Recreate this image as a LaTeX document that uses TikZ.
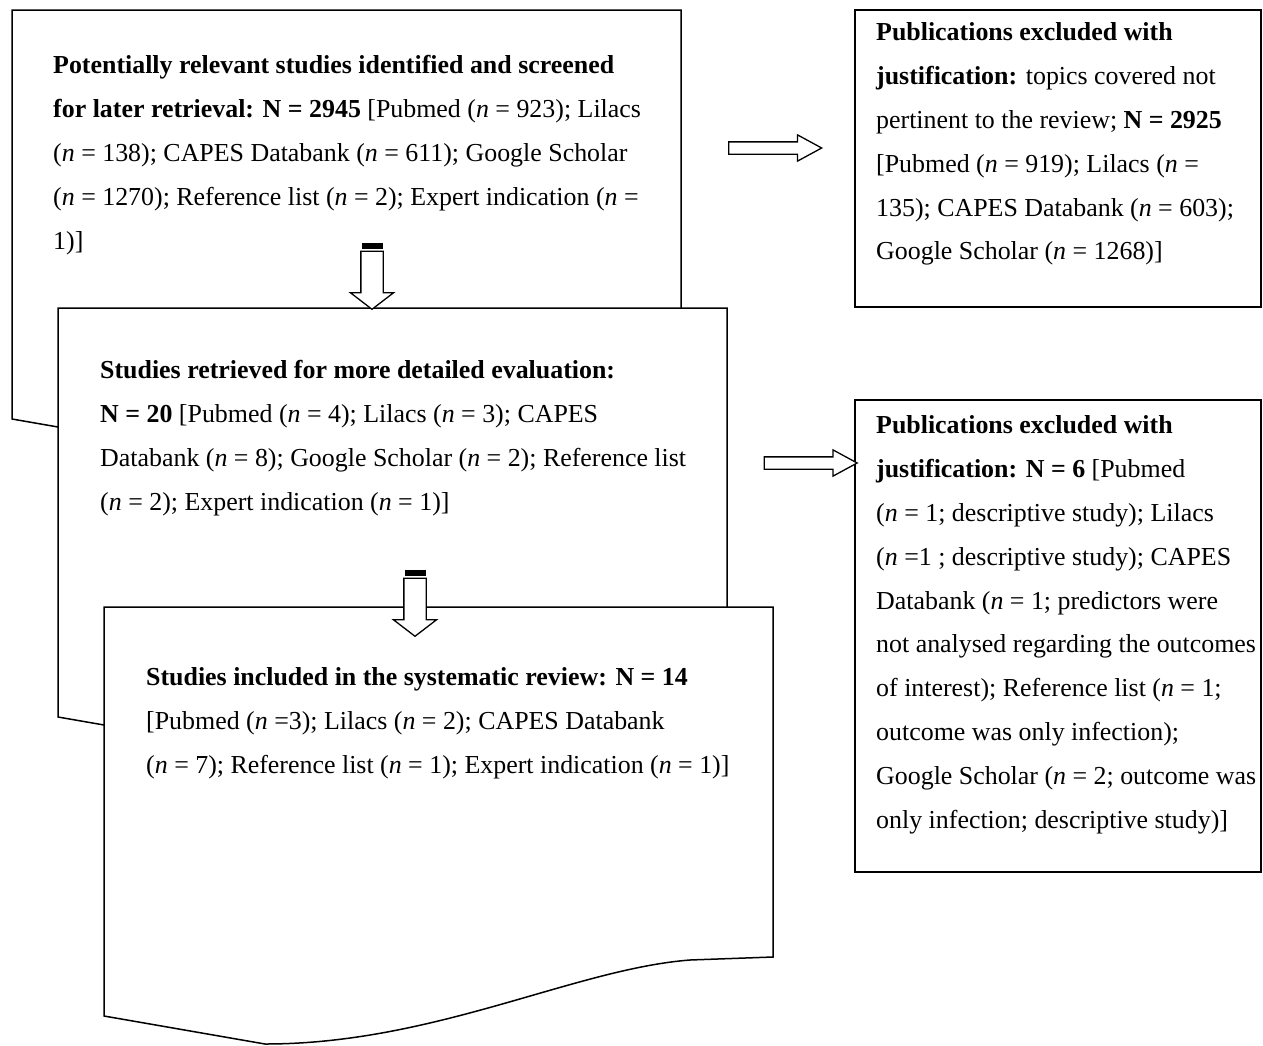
\documentclass[tikz,border=0pt]{standalone}
\usepackage{fontspec}
\setmainfont{Liberation Serif}
\usetikzlibrary{shapes.arrows,positioning}

\begin{document}
\begin{tikzpicture}[
            x=1bp, y=-1bp,
            docbox/.pic={\draw[fill=white, line width=1.5bp] (0,0) -- (669,0) -- (669,350) -- (586,353)
                .. controls (470,362) and (330,437) .. (161,437) -- (0,409) -- cycle;},
            frame/.style={draw, line width=1.5bp},
            txt/.style={anchor=north west, inner sep=0, align=left, font=\fontsize{26}{44}\selectfont},
            downarrow/.style={single arrow, draw, line width=1.3bp, fill=white, rotate=-90,
                inner sep=10.5bp, single arrow head extend=10.5bp, single arrow tip angle=105,
                minimum height=58bp},
            rightarrow/.style={single arrow, draw, line width=1.3bp, fill=white,
                inner sep=5.5bp, single arrow head extend=7bp, single arrow tip angle=57,
                minimum height=93bp}
        ]
            \useasboundingbox (0,0) rectangle (1263,1046);

            % Stacked document boxes
            \pic at (12,10) {docbox};
            \pic at (58,308) {docbox};
            \pic at (104,607) {docbox};

            % Exclusion boxes
            \draw[frame] (855,10) rectangle (1261,307);
            \draw[frame] (855,400) rectangle (1261,872);

            \node[txt] (ident) at (53,55.5) {\textbf{Potentially relevant studies identified and screened}\\
                \textbf{for later retrieval: N = 2945} [Pubmed (\textit{n} = 923); Lilacs\\
                (\textit{n} = 138); CAPES Databank (\textit{n} = 611); Google Scholar\\
                (\textit{n} = 1270); Reference list (\textit{n} = 2); Expert indication (\textit{n} =\\
                1)]};
            \node[txt] (retrieved) at (100,360.5) {\textbf{Studies retrieved for more detailed evaluation:}\\
                \textbf{N = 20} [Pubmed (\textit{n} = 4); Lilacs (\textit{n} = 3); CAPES\\
                Databank (\textit{n} = 8); Google Scholar (\textit{n} = 2); Reference list\\
                (\textit{n} = 2); Expert indication (\textit{n} = 1)]};
            \node[txt] (included) at (146,667.5) {\textbf{Studies included in the systematic review: N = 14}\\
                {[}Pubmed (\textit{n} =3); Lilacs (\textit{n} = 2); CAPES Databank\\
                (\textit{n} = 7); Reference list (\textit{n} = 1); Expert indication (\textit{n} = 1)]};
            \node[txt] (excluded) at (876,22.5) {\textbf{Publications excluded with}\\
                \textbf{justification:} topics covered not\\
                pertinent to the review; \textbf{N = 2925}\\
                {[}Pubmed (\textit{n} = 919); Lilacs (\textit{n} =\\
                135); CAPES Databank (\textit{n} = 603);\\
                Google Scholar (\textit{n} = 1268)]};
            \node[txt] (justified) at (876,415.5) {\textbf{Publications excluded with}\\
                \textbf{justification: N = 6} [Pubmed\\
                (\textit{n} = 1; descriptive study); Lilacs\\
                (\textit{n} =1 ; descriptive study); CAPES\\
                Databank (\textit{n} = 1; predictors were\\
                not analysed regarding the outcomes\\
                of interest); Reference list (\textit{n} = 1;\\
                outcome was only infection);\\
                Google Scholar (\textit{n} = 2; outcome was\\
                only infection; descriptive study)]};

            % Block arrows
            \node[downarrow] (down1) at (372,276) {};
            \node[downarrow] (down2) at (415,603) {};
            \fill (361.5,243) rectangle (382.5,249);
            \fill (404.5,570) rectangle (425.5,576);
            \node[rightarrow] (right1) at (769.5,148) {};
            \node[rightarrow] (right2) at (805,463) {};
        \end{tikzpicture}
\end{document}
